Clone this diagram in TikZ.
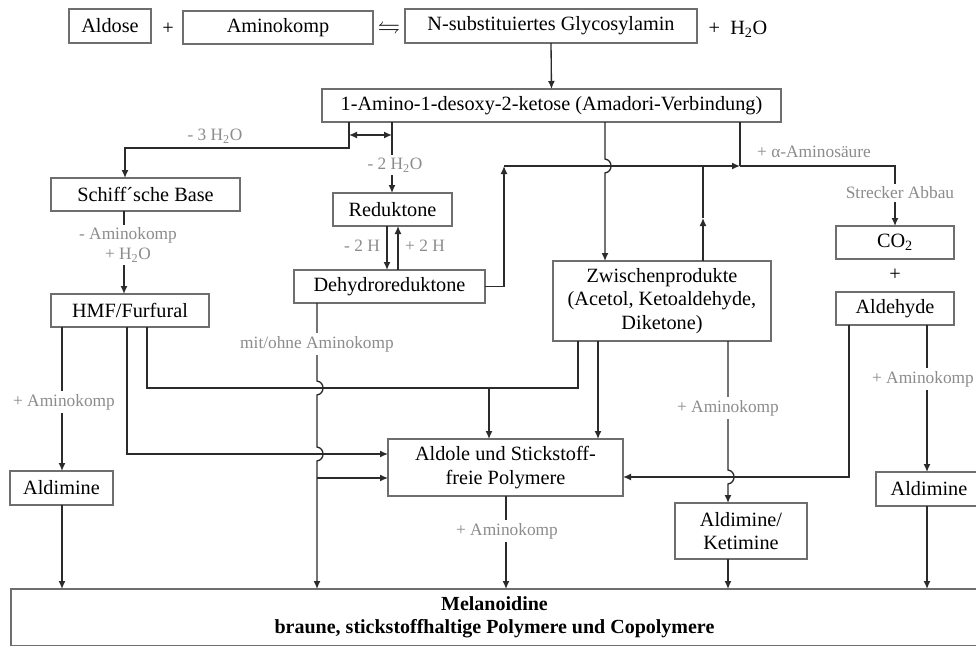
\documentclass[tikz,border=0pt]{standalone}
\usepackage{amssymb}
\usepackage{fontspec}
\setmainfont{Liberation Serif}
\usetikzlibrary{arrows.meta,calc}
\definecolor{boxgray}{HTML}{6E6E6E}
\definecolor{lblgray}{HTML}{8C8C8C}
\definecolor{linecol}{HTML}{2B2B2B}
\newcommand{\bx}[6]{\node[box,minimum width={(#3-#1)*0.75pt},minimum height={(#4-#2)*0.75pt}] (#5) at ({(#1+#3)/2},{(#2+#4)/2}) {#6};}
\begin{document}
\begin{tikzpicture}[x=0.75pt,y=-0.75pt,
  box/.style={draw=boxgray,line width=0.8pt,fill=white,inner sep=1pt,outer sep=0pt,align=center,
    font=\fontsize{15.2}{17.6}\selectfont},
  conn/.style={draw=linecol,line width=1pt},
  arr/.style={conn,-{Latex[length=6pt,width=5.2pt]}},
  darr/.style={conn,{Latex[length=6pt,width=5.2pt]}-{Latex[length=6pt,width=5.2pt]}},
  lbl/.style={text=lblgray,fill=white,inner sep=2pt,align=center,font=\fontsize{13}{15.2}\selectfont},
  plain/.style={inner sep=0pt,font=\fontsize{15.2}{17.6}\selectfont}]
\clip (0,0) rectangle (976,646);
\useasboundingbox (0,0) rectangle (976,646);
\fill[white] (0,0) rectangle (976,646);

% boxes
\bx{69}{9}{151}{43}{aldose}{Aldose}
\bx{183}{11}{373}{44}{amino}{Aminokomp}
\bx{405}{9}{697}{43}{nsub}{N-substituiertes Glycosylamin}
\bx{322}{89}{781}{122}{amadori}{1-Amino-1-desoxy-2-ketose (Amadori-Verbindung)}
\bx{51}{178}{240}{211}{schiff}{Schiff´sche Base}
\bx{333}{193}{452}{226}{redukt}{Reduktone}
\bx{294}{270}{485}{303}{dehydro}{Dehydroreduktone}
\bx{51}{294}{209}{327}{hmf}{HMF/Furfural}
\bx{553}{261}{771}{341}{zw}{Zwischenprodukte\\(Acetol, Ketoaldehyde,\\Diketone)}
\bx{836}{226}{954}{259}{co2}{CO\textsubscript{2}}
\bx{836}{292}{954}{325}{aldehyde}{Aldehyde}
\bx{10}{471}{113}{505}{aldL}{Aldimine}
\bx{388}{439}{623}{496}{aldole}{Aldole und Stickstoff-\\freie Polymere}
\bx{675}{503}{807}{559}{aldket}{Aldimine/\\Ketimine}
\bx{876}{472}{982}{506}{aldR}{Aldimine}
\bx{11}{589}{978}{646}{mel}{\bfseries\fontsize{15}{17}\selectfont Melanoidine\\\bfseries\fontsize{15}{17}\selectfont braune, stickstoffhaltige Polymere und Copolymere}

% top row symbols
\node[plain] (plus1) at (168,29) {+};
\node[plain,scale=1.1] (eq) at (389,28) {$\leftrightharpoons$};
\node[plain] (h2o) at (738,29) {+\hspace{0.5em}H\textsubscript{2}O};
\node[plain] (plus2) at (895,275) {+};

% helper coordinates
\coordinate (j1) at (349,148);
\coordinate (j2) at (125,148);
\coordinate (d1) at (349,135);
\coordinate (d2) at (392,135);
\coordinate (c392) at (392,0);
\coordinate (c387) at (387,0);
\coordinate (c398) at (398,0);
\coordinate (j504) at (504,166);
\coordinate (j740) at (740,166);
\coordinate (j895) at (895,166);
\coordinate (c605) at (605,0);
\coordinate (m703) at (703,218);
\coordinate (c124) at (124,0);
\coordinate (j127) at (127,454);
\coordinate (j147) at (147,388);
\coordinate (j578) at (578,388);
\coordinate (j489) at (489,388);
\coordinate (c598) at (598,0);
\coordinate (c728) at (728,0);
\coordinate (j849) at (849,477);
\coordinate (c927) at (927,0);
\coordinate (c506) at (506,0);
\coordinate (c317) at (317,0);
\coordinate (j317) at (317,478);
\coordinate (c62) at (62,0);

% connectors
\draw[arr] (nsub.south) -- (amadori.north);
\draw[arr] (amadori.south -| j1) -- (j1) -| (schiff.north -| j2);
\draw[darr] (d1) -- (d2);
\draw[arr] (amadori.south -| c392) -- (redukt.north -| c392);
\draw[arr] (redukt.south -| c387) -- (dehydro.north -| c387);
\draw[arr] (dehydro.north -| c398) -- (redukt.south -| c398);
\draw[arr] (dehydro.east) -| (j504);
\draw[arr] (j504) -- (j740);
\draw[conn] (amadori.south -| j740) -- (j740);
\draw[arr] (j740) -- (j895) -- (co2.north);
\draw[arr] (amadori.south -| c605) -- (605,159) .. controls (613,160) and (613,172) .. (605,173) -- (zw.north -| c605);
\draw[arr] (zw.north -| m703) -- (m703);
\draw[conn] (m703) -- (m703 |- j504);
\draw[arr] (schiff.south -| c124) -- (hmf.north -| c124);
\draw[arr] (hmf.south -| c62) -- (aldL.north -| c62);
\draw[arr] (hmf.south -| j127) -- (j127) -- (aldole.west |- j127);
\draw[conn] (hmf.south -| j147) -- (j147) -- (j578) -- (zw.south -| j578);
\draw[arr] (j489) -- (aldole.north -| j489);
\draw[arr] (zw.south -| c598) -- (aldole.north -| c598);
\draw[arr] (zw.south -| c728) -- (728,470) .. controls (736,471) and (736,483) .. (728,484) -- (aldket.north -| c728);
\draw[arr] (aldehyde.south -| j849) -- (j849) -- (aldole.east |- j849);
\draw[arr] (aldehyde.south -| c927) -- (aldR.north -| c927);
\draw[arr] (aldR.south -| c927) -- (mel.north -| c927);
\draw[arr] (aldL.south -| c62) -- (mel.north -| c62);
\draw[arr] (aldket.south -| c728) -- (mel.north -| c728);
\draw[arr] (aldole.south -| c506) -- (mel.north -| c506);
\draw[arr] (dehydro.south -| c317) -- (317,381) .. controls (325,382) and (325,394) .. (317,395)
  -- (317,447) .. controls (325,448) and (325,460) .. (317,461) -- (mel.north -| c317);
\draw[arr] (j317) -- (aldole.west |- j317);

% labels
\node[lbl,fill=none] (l3h2o) at (215,136) {- 3 H\textsubscript{2}O};
\node[lbl] (l2h2o) at (395,165) {- 2 H\textsubscript{2}O};
\node[lbl,fill=none] (lm2h) at (362,246) {- 2 H};
\node[lbl,fill=none] (lp2h) at (425,246) {+ 2 H};
\node[lbl,fill=none] (lalpha) at (814,152) {+ α-Aminosäure};
\node[lbl] (lstrecker) at (900,193) {Strecker Abbau};
\node[lbl] (lschiff) at (128,245) {- Aminokomp\\+ H\textsubscript{2}O};
\node[lbl] (lmit) at (317,344) {mit/ohne Aminokomp};
\node[lbl] (la1) at (64,402) {+ Aminokomp};
\node[lbl] (la2) at (728,408) {+ Aminokomp};
\node[lbl] (la3) at (923,379) {+ Aminokomp};
\node[lbl] (la4) at (507,531) {+ Aminokomp};
\end{tikzpicture}
\end{document}
